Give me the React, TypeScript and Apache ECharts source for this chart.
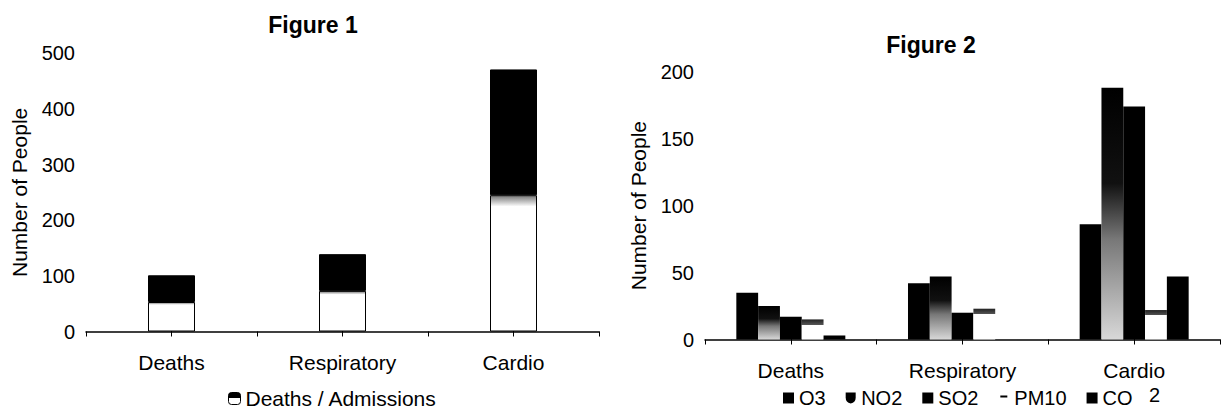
import React, { useEffect, useRef } from "react";
import * as echarts from "echarts";

const categories = ["Deaths", "Respiratory", "Cardio"];
const fig1Lower = [53, 73, 245];
const fig1Upper = [48, 66, 226];
const o3 = [35, 42, 86];
const no2 = [25, 47, 188];
const so2 = [17, 20, 174];
const pm10 = [15, 23, 22];
const co = [3, 0, 47];
const legend2Names = ["O3", "NO2", "SO2", "PM10", "CO"];

const FONT = "'Liberation Sans', Arial, Helvetica, sans-serif";

const vGrad = (stops: [number, string][]) => ({
  type: "linear",
  x: 0,
  y: 0,
  x2: 0,
  y2: 1,
  colorStops: stops.map(([offset, color]) => ({ offset, color })),
});

export default function App() {
  const ref = useRef<HTMLDivElement>(null);
  useEffect(() => {
    if (!ref.current) return;
    const chart = echarts.init(ref.current, null, { renderer: "svg" });
    const axisLine = { show: true, lineStyle: { color: "#000", width: 1.5 } };
    const catLabel = { fontSize: 21, color: "#000", fontFamily: FONT, margin: 20 };
    const valLabel = { fontSize: 20, color: "#000", fontFamily: FONT, margin: 11 };
    const shield = "path://M0,0L10,0L10,5Q10,10 5,11Q0,10 0,5Z";
    const dash = "path://M0,0L0.05,0L0,0.05Z M2,3L9,3L9,5L2,5Z M10.95,11L11,10.95L11,11Z";
    const legendData2 = [
      { name: "O3", icon: "rect", itemStyle: { color: "#000" } },
      { name: "NO2", icon: shield, itemStyle: { color: "#000" } },
      { name: "SO2", icon: "rect", itemStyle: { color: "#000" } },
      { name: "PM10", icon: dash, itemStyle: { color: "#000" } },
      { name: "CO", icon: "rect", itemStyle: { color: "#000" } },
    ].filter((d) => legend2Names.includes(d.name));

    chart.setOption({
      animation: false,
      backgroundColor: "#fff",
      textStyle: { fontFamily: FONT, color: "#000" },
      title: [
        {
          text: "Figure 1",
          left: 308,
          top: 8,
          textAlign: "center",
          textStyle: { fontSize: 23, fontWeight: "bold", color: "#000", fontFamily: FONT },
        },
        {
          text: "Figure 2",
          left: 926,
          top: 28,
          textAlign: "center",
          textStyle: { fontSize: 23, fontWeight: "bold", color: "#000", fontFamily: FONT },
        },
      ],
      legend: [
        {
          left: 223,
          top: 383,
          itemWidth: 12,
          itemHeight: 12,
          textStyle: { fontSize: 21, color: "#000", fontFamily: FONT },
          data: [
            {
              name: "Deaths / Admissions",
              icon: "roundRect",
              itemStyle: {
                color: vGrad([
                  [0, "#000"],
                  [0.5, "#000"],
                  [0.5, "#fff"],
                  [1, "#fff"],
                ]),
                borderColor: "#000",
                borderWidth: 1,
              },
            },
          ],
        },
        {
          left: 783,
          top: 388,
          padding: 0,
          itemWidth: 11,
          itemHeight: 11,
          itemGap: 20,
          textStyle: { fontSize: 20, color: "#000", fontFamily: FONT },
          data: legendData2,
        },
      ],
      graphic: [
        {
          type: "text",
          left: 1149,
          top: 385,
          style: { text: "2", fontSize: 20, fill: "#000", font: `20px ${FONT}` },
        },
      ],
      grid: [
        { left: 86, top: 53.3, width: 513, height: 278.2 },
        { left: 705, top: 71.7, width: 515, height: 267.8 },
      ],
      xAxis: [
        {
          type: "category",
          gridIndex: 0,
          data: categories,
          axisLine,
          axisTick: { show: true, length: 5, lineStyle: { color: "#000" } },
          axisLabel: catLabel,
        },
        {
          type: "category",
          gridIndex: 0,
          data: categories,
          position: "bottom",
          offset: -5,
          axisLine: { show: false },
          axisTick: { show: true, alignWithLabel: true, length: 10, lineStyle: { color: "#000" } },
          axisLabel: { show: false },
        },
        {
          type: "category",
          gridIndex: 1,
          data: categories,
          axisLine,
          axisTick: { show: true, length: 5, lineStyle: { color: "#000" } },
          axisLabel: catLabel,
        },
        {
          type: "category",
          gridIndex: 1,
          data: categories,
          position: "bottom",
          offset: -1,
          axisLine: { show: false },
          axisTick: { show: true, alignWithLabel: true, length: 6, lineStyle: { color: "#000" } },
          axisLabel: { show: false },
        },
      ],
      yAxis: [
        {
          type: "value",
          gridIndex: 0,
          min: 0,
          max: 500,
          interval: 100,
          name: "Number of People",
          nameLocation: "middle",
          nameGap: 56,
          nameTextStyle: { fontSize: 21, color: "#000", fontFamily: FONT },
          axisLine: { show: false },
          axisTick: { show: false },
          splitLine: { show: false },
          axisLabel: valLabel,
        },
        {
          type: "value",
          gridIndex: 1,
          min: 0,
          max: 200,
          interval: 50,
          name: "Number of People",
          nameLocation: "middle",
          nameGap: 56,
          nameTextStyle: { fontSize: 21, color: "#000", fontFamily: FONT },
          axisLine: { show: false },
          axisTick: { show: false },
          splitLine: { show: false },
          axisLabel: valLabel,
        },
      ],
      series: [
        {
          name: "Lower",
          type: "bar",
          xAxisIndex: 0,
          yAxisIndex: 0,
          stack: "f1",
          barWidth: 47,
          data: fig1Lower,
          itemStyle: {
            color: vGrad([
              [0, "#777"],
              [0.08, "#fff"],
              [1, "#fff"],
            ]),
            borderColor: "#000",
            borderWidth: 1,
          },
        },
        {
          name: "Deaths / Admissions",
          type: "bar",
          xAxisIndex: 0,
          yAxisIndex: 0,
          stack: "f1",
          barWidth: 47,
          data: fig1Upper,
          itemStyle: { color: "#000", borderColor: "#000", borderWidth: 1 },
        },
        {
          name: "O3",
          type: "bar",
          xAxisIndex: 2,
          yAxisIndex: 1,
          barGap: "0%",
          barCategoryGap: "36.5%",
          data: o3,
          itemStyle: { color: "#000" },
        },
        {
          name: "NO2",
          type: "bar",
          xAxisIndex: 2,
          yAxisIndex: 1,
          barGap: "0%",
          barCategoryGap: "36.5%",
          data: no2,
          itemStyle: {
            color: vGrad([
              [0, "#000"],
              [0.38, "#111"],
              [0.6, "#777"],
              [1, "#d8d8d8"],
            ]),
          },
        },
        {
          name: "SO2",
          type: "bar",
          xAxisIndex: 2,
          yAxisIndex: 1,
          barGap: "0%",
          barCategoryGap: "36.5%",
          data: so2,
          itemStyle: { color: "#000" },
        },
        {
          name: "PM10",
          type: "bar",
          xAxisIndex: 2,
          yAxisIndex: 1,
          barGap: "0%",
          barCategoryGap: "36.5%",
          data: pm10.map((v) => {
            const f = Math.min(1, 4 / Math.max(v, 0.001));
            return {
              value: v,
              itemStyle: {
                color: vGrad([
                  [0, "#222"],
                  [f, "#555"],
                  [f, "#fff"],
                  [1, "#fff"],
                ]),
              },
            };
          }),
        },
        {
          name: "CO",
          type: "bar",
          xAxisIndex: 2,
          yAxisIndex: 1,
          barGap: "0%",
          barCategoryGap: "36.5%",
          data: co,
          itemStyle: { color: "#000" },
        },
      ],
    });
    return () => chart.dispose();
  }, []);
  return (
    <div
      ref={ref}
      style={{ position: "fixed", left: 0, top: 0, width: 1221, height: 414, background: "#fff" }}
    />
  );
}
